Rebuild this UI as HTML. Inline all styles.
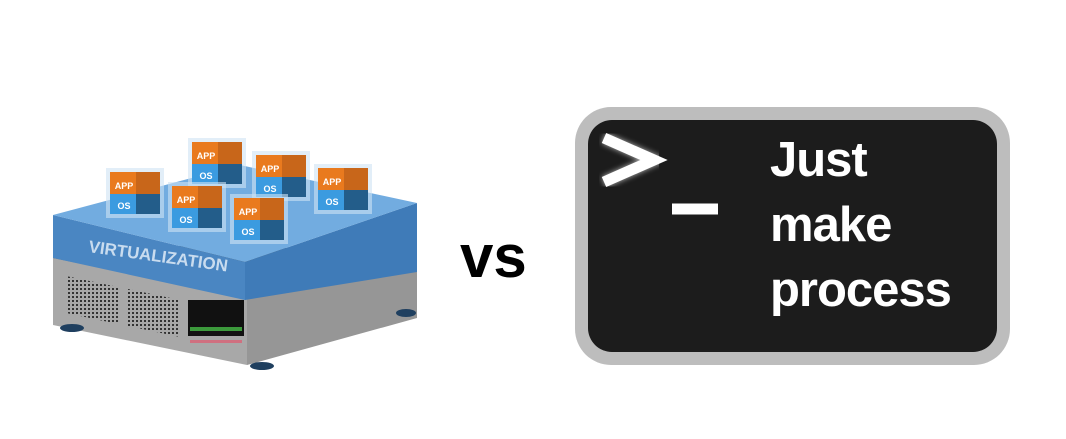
<!DOCTYPE html>
<html><head><meta charset="utf-8"><style>
body{margin:0;width:1066px;height:439px;background:#fff;overflow:hidden;position:relative;font-family:"Liberation Sans",sans-serif}
.term{position:absolute;left:575px;top:107px;width:435px;height:258px;background:#bdbdbd;border-radius:36px}
.in{position:absolute;left:13px;top:13px;width:409px;height:232px;background:#1c1c1c;border-radius:24px}
.txt{position:absolute;left:182px;top:8px;color:#fff;font-weight:bold;font-size:49px;line-height:65px;letter-spacing:-1px}
.vs{position:absolute;left:460px;top:222px;font-weight:bold;font-size:60px;color:#000}
</style></head><body>
<svg width="460" height="439" style="position:absolute;left:0;top:0" font-family="Liberation Sans" font-weight="bold">
<defs><pattern id="d" width="4" height="4" patternUnits="userSpaceOnUse"><rect width="4" height="4" fill="#a8a8a8"/><rect width="2" height="2" fill="#333"/></pattern></defs>
<polygon points="53,258 247,298 247,365 53,325" fill="#a8a8a8"/>
<polygon points="247,298 417,270 417,318 247,365" fill="#969696"/>
<polygon points="53,258 247,298 417,270 240,240" fill="#333"/>
<ellipse cx="72" cy="328" rx="12" ry="4" fill="#1f3f5f"/>
<ellipse cx="262" cy="366" rx="12" ry="4" fill="#1f3f5f"/>
<ellipse cx="406" cy="313" rx="10" ry="4" fill="#1f3f5f"/>
<polygon points="66,276 118,287 118,324 66,313" fill="url(#d)"/>
<polygon points="128,289 180,300 180,337 128,326" fill="url(#d)"/>
<g fill="#111"><rect x="188" y="300" width="56" height="36"/></g>
<g fill="#3c9a3c"><rect x="190" y="327" width="52" height="4"/></g>
<g fill="#d07080"><rect x="190" y="340" width="52" height="3"/></g>
<polygon points="53,215 245,262 245,300 53,258" fill="#4a86c2"/>
<polygon points="245,262 417,203 417,272 245,300" fill="#3f7bb8"/>
<polygon points="53,215 240,165 417,203 245,262" fill="#72ace0"/>
<text x="88" y="252" font-size="17" fill="#c9dcef" transform="rotate(8 88 252)">VIRTUALIZATION</text>
<g font-size="9" fill="#fff" text-anchor="middle">
<g transform="translate(110,172)"><rect x="-4" y="-4" width="58" height="50" fill="#cfe2f3" opacity=".6"/><rect x="0" y="0" width="50" height="22" fill="#e97a1e"/><rect x="26" y="0" width="24" height="22" fill="#c8661a"/><rect x="0" y="22" width="50" height="20" fill="#3b9be0"/><rect x="26" y="22" width="24" height="20" fill="#235d8a"/><text x="14" y="17">APP</text><text x="14" y="37">OS</text></g>
<g transform="translate(192,142)"><rect x="-4" y="-4" width="58" height="50" fill="#cfe2f3" opacity=".6"/><rect x="0" y="0" width="50" height="22" fill="#e97a1e"/><rect x="26" y="0" width="24" height="22" fill="#c8661a"/><rect x="0" y="22" width="50" height="20" fill="#3b9be0"/><rect x="26" y="22" width="24" height="20" fill="#235d8a"/><text x="14" y="17">APP</text><text x="14" y="37">OS</text></g>
<g transform="translate(256,155)"><rect x="-4" y="-4" width="58" height="50" fill="#cfe2f3" opacity=".6"/><rect x="0" y="0" width="50" height="22" fill="#e97a1e"/><rect x="26" y="0" width="24" height="22" fill="#c8661a"/><rect x="0" y="22" width="50" height="20" fill="#3b9be0"/><rect x="26" y="22" width="24" height="20" fill="#235d8a"/><text x="14" y="17">APP</text><text x="14" y="37">OS</text></g>
<g transform="translate(318,168)"><rect x="-4" y="-4" width="58" height="50" fill="#cfe2f3" opacity=".6"/><rect x="0" y="0" width="50" height="22" fill="#e97a1e"/><rect x="26" y="0" width="24" height="22" fill="#c8661a"/><rect x="0" y="22" width="50" height="20" fill="#3b9be0"/><rect x="26" y="22" width="24" height="20" fill="#235d8a"/><text x="14" y="17">APP</text><text x="14" y="37">OS</text></g>
<g transform="translate(172,186)"><rect x="-4" y="-4" width="58" height="50" fill="#cfe2f3" opacity=".6"/><rect x="0" y="0" width="50" height="22" fill="#e97a1e"/><rect x="26" y="0" width="24" height="22" fill="#c8661a"/><rect x="0" y="22" width="50" height="20" fill="#3b9be0"/><rect x="26" y="22" width="24" height="20" fill="#235d8a"/><text x="14" y="17">APP</text><text x="14" y="37">OS</text></g>
<g transform="translate(234,198)"><rect x="-4" y="-4" width="58" height="50" fill="#cfe2f3" opacity=".6"/><rect x="0" y="0" width="50" height="22" fill="#e97a1e"/><rect x="26" y="0" width="24" height="22" fill="#c8661a"/><rect x="0" y="22" width="50" height="20" fill="#3b9be0"/><rect x="26" y="22" width="24" height="20" fill="#235d8a"/><text x="14" y="17">APP</text><text x="14" y="37">OS</text></g>
</g>
</svg>
<div class="vs">vs</div>
<div class="term"><div class="in">
<svg width="409" height="232" style="position:absolute;left:0;top:0">
<defs><filter id="g"><feGaussianBlur stdDeviation="3"/></filter></defs>
<g stroke="#fff" stroke-width="11" fill="none" stroke-linejoin="miter">
<polyline points="16,18 66,40 16,62" filter="url(#g)" opacity=".7"/>
<polyline points="16,18 66,40 16,62"/>
<line x1="84" y1="89" x2="130" y2="89" filter="url(#g)" opacity=".7"/>
<line x1="84" y1="89" x2="130" y2="89"/>
</g>
</svg>
<div class="txt">Just<br>make<br>process</div>
</div></div>
</body></html>
